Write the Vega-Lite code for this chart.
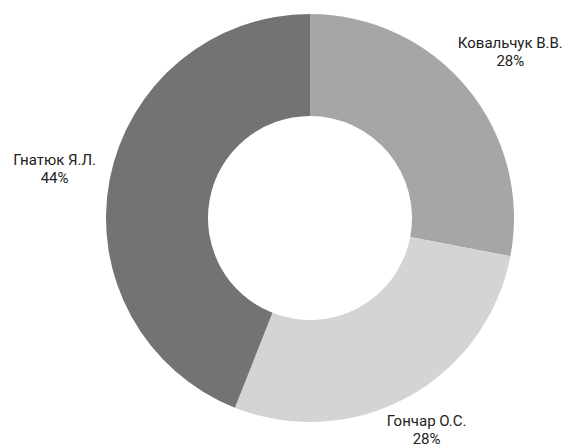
{
  "$schema": "https://vega.github.io/schema/vega-lite/v6.json",
  "autosize": {"type": "none"},
  "width": 420,
  "height": 420,
  "padding": {"left": 100, "top": 8, "right": 47, "bottom": 20},
  "background": "white",
  "data": {
    "values": [
      {"name": "Ковальчук В.В.", "value": 28, "pct": "28%"},
      {"name": "Гончар О.С.", "value": 28, "pct": "28%"},
      {"name": "Гнатюк Я.Л.", "value": 44, "pct": "44%"}
    ]
  },
  "encoding": {
    "theta": {"field": "value", "type": "quantitative", "stack": true},
    "order": {"field": "name", "sort": "descending"},
    "detail": {"field": "name"}
  },
  "layer": [
    {
      "mark": {"type": "arc", "outerRadius": 204, "innerRadius": 102},
      "encoding": {
        "color": {
          "field": "name",
          "type": "nominal",
          "scale": {
            "domain": ["Ковальчук В.В.", "Гончар О.С.", "Гнатюк Я.Л."],
            "range": ["#a6a6a6", "#d4d4d4", "#737373"]
          },
          "legend": null
        }
      }
    },
    {
      "mark": {"type": "text", "radius": {"expr": "datum.name === 'Гончар О.С.' ? 242 : 260"}, "dy": -9, "font": "Roboto", "fontSize": 15, "color": "#222222"},
      "encoding": {"text": {"field": "name"}}
    },
    {
      "mark": {"type": "text", "radius": {"expr": "datum.name === 'Гончар О.С.' ? 242 : 260"}, "dy": 9, "font": "Roboto", "fontSize": 15, "color": "#222222"},
      "encoding": {"text": {"field": "pct"}}
    }
  ],
  "config": {"view": {"stroke": null}}
}
